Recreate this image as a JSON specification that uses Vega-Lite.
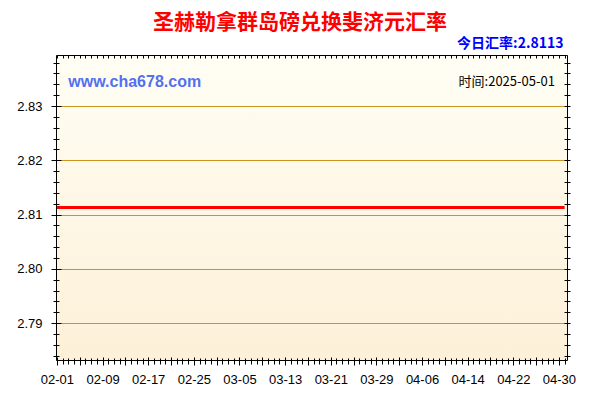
{
  "$schema": "https://vega.github.io/schema/vega-lite/v6.json",
  "width": 511,
  "height": 305,
  "autosize": {"type": "none"},
  "padding": {"left": 56, "top": 55, "right": 33, "bottom": 40},
  "background": "#ffffff",
  "title": {
    "text": "圣赫勒拿群岛磅兑换斐济元汇率",
    "color": "#ff0000",
    "font": "Noto Sans CJK SC",
    "fontSize": 21,
    "fontWeight": "bold",
    "anchor": "middle",
    "offset": 4,
    "dx": -11.5
  },
  "config": {
    "view": {
      "fill": {
        "gradient": "linear",
        "x1": 0, "y1": 0, "x2": 0, "y2": 1,
        "stops": [
          {"offset": 0, "color": "#fffef4"},
          {"offset": 1, "color": "#fdf0d8"}
        ]
      },
      "stroke": "#000000",
      "strokeWidth": 1
    },
    "axis": {
      "domain": false,
      "grid": false,
      "labelFont": "Liberation Sans",
      "labelFontSize": 13,
      "labelColor": "#000000",
      "tickColor": "#000000",
      "tickWidth": 1
    }
  },
  "data": {
    "values": [
      {"date": "2025-02-01", "rate": 2.8113}, {"date": "2025-02-02", "rate": 2.8113}, {"date": "2025-02-03", "rate": 2.8113},
      {"date": "2025-02-04", "rate": 2.8113}, {"date": "2025-02-05", "rate": 2.8113}, {"date": "2025-02-06", "rate": 2.8113},
      {"date": "2025-02-07", "rate": 2.8113}, {"date": "2025-02-08", "rate": 2.8113}, {"date": "2025-02-09", "rate": 2.8113},
      {"date": "2025-02-10", "rate": 2.8113}, {"date": "2025-02-11", "rate": 2.8113}, {"date": "2025-02-12", "rate": 2.8113},
      {"date": "2025-02-13", "rate": 2.8113}, {"date": "2025-02-14", "rate": 2.8113}, {"date": "2025-02-15", "rate": 2.8113},
      {"date": "2025-02-16", "rate": 2.8113}, {"date": "2025-02-17", "rate": 2.8113}, {"date": "2025-02-18", "rate": 2.8113},
      {"date": "2025-02-19", "rate": 2.8113}, {"date": "2025-02-20", "rate": 2.8113}, {"date": "2025-02-21", "rate": 2.8113},
      {"date": "2025-02-22", "rate": 2.8113}, {"date": "2025-02-23", "rate": 2.8113}, {"date": "2025-02-24", "rate": 2.8113},
      {"date": "2025-02-25", "rate": 2.8113}, {"date": "2025-02-26", "rate": 2.8113}, {"date": "2025-02-27", "rate": 2.8113},
      {"date": "2025-02-28", "rate": 2.8113}, {"date": "2025-03-01", "rate": 2.8113}, {"date": "2025-03-02", "rate": 2.8113},
      {"date": "2025-03-03", "rate": 2.8113}, {"date": "2025-03-04", "rate": 2.8113}, {"date": "2025-03-05", "rate": 2.8113},
      {"date": "2025-03-06", "rate": 2.8113}, {"date": "2025-03-07", "rate": 2.8113}, {"date": "2025-03-08", "rate": 2.8113},
      {"date": "2025-03-09", "rate": 2.8113}, {"date": "2025-03-10", "rate": 2.8113}, {"date": "2025-03-11", "rate": 2.8113},
      {"date": "2025-03-12", "rate": 2.8113}, {"date": "2025-03-13", "rate": 2.8113}, {"date": "2025-03-14", "rate": 2.8113},
      {"date": "2025-03-15", "rate": 2.8113}, {"date": "2025-03-16", "rate": 2.8113}, {"date": "2025-03-17", "rate": 2.8113},
      {"date": "2025-03-18", "rate": 2.8113}, {"date": "2025-03-19", "rate": 2.8113}, {"date": "2025-03-20", "rate": 2.8113},
      {"date": "2025-03-21", "rate": 2.8113}, {"date": "2025-03-22", "rate": 2.8113}, {"date": "2025-03-23", "rate": 2.8113},
      {"date": "2025-03-24", "rate": 2.8113}, {"date": "2025-03-25", "rate": 2.8113}, {"date": "2025-03-26", "rate": 2.8113},
      {"date": "2025-03-27", "rate": 2.8113}, {"date": "2025-03-28", "rate": 2.8113}, {"date": "2025-03-29", "rate": 2.8113},
      {"date": "2025-03-30", "rate": 2.8113}, {"date": "2025-03-31", "rate": 2.8113}, {"date": "2025-04-01", "rate": 2.8113},
      {"date": "2025-04-02", "rate": 2.8113}, {"date": "2025-04-03", "rate": 2.8113}, {"date": "2025-04-04", "rate": 2.8113},
      {"date": "2025-04-05", "rate": 2.8113}, {"date": "2025-04-06", "rate": 2.8113}, {"date": "2025-04-07", "rate": 2.8113},
      {"date": "2025-04-08", "rate": 2.8113}, {"date": "2025-04-09", "rate": 2.8113}, {"date": "2025-04-10", "rate": 2.8113},
      {"date": "2025-04-11", "rate": 2.8113}, {"date": "2025-04-12", "rate": 2.8113}, {"date": "2025-04-13", "rate": 2.8113},
      {"date": "2025-04-14", "rate": 2.8113}, {"date": "2025-04-15", "rate": 2.8113}, {"date": "2025-04-16", "rate": 2.8113},
      {"date": "2025-04-17", "rate": 2.8113}, {"date": "2025-04-18", "rate": 2.8113}, {"date": "2025-04-19", "rate": 2.8113},
      {"date": "2025-04-20", "rate": 2.8113}, {"date": "2025-04-21", "rate": 2.8113}, {"date": "2025-04-22", "rate": 2.8113},
      {"date": "2025-04-23", "rate": 2.8113}, {"date": "2025-04-24", "rate": 2.8113}, {"date": "2025-04-25", "rate": 2.8113},
      {"date": "2025-04-26", "rate": 2.8113}, {"date": "2025-04-27", "rate": 2.8113}, {"date": "2025-04-28", "rate": 2.8113},
      {"date": "2025-04-29", "rate": 2.8113}, {"date": "2025-04-30", "rate": 2.8113}, {"date": "2025-05-01", "rate": 2.8113}
    ]
  },
  "resolve": {"axis": {"x": "independent", "y": "independent"}},
  "layer": [
    {
      "mark": {"type": "line", "color": "#ff0000", "strokeWidth": 3},
      "encoding": {
        "x": {
          "field": "date",
          "type": "temporal",
          "scale": {
            "type": "utc",
            "nice": false,
            "domain": [
              {"year": 2025, "month": 1, "date": 31, "hours": 20, "utc": true},
              {"year": 2025, "month": 5, "date": 1, "hours": 10, "utc": true}
            ]
          },
          "axis": {
            "orient": "bottom",
            "title": null,
            "values": [
              {"year": 2025, "month": 2, "date": 1, "utc": true},
              {"year": 2025, "month": 2, "date": 5, "utc": true},
              {"year": 2025, "month": 2, "date": 9, "utc": true},
              {"year": 2025, "month": 2, "date": 13, "utc": true},
              {"year": 2025, "month": 2, "date": 17, "utc": true},
              {"year": 2025, "month": 2, "date": 21, "utc": true},
              {"year": 2025, "month": 2, "date": 25, "utc": true},
              {"year": 2025, "month": 3, "date": 1, "utc": true},
              {"year": 2025, "month": 3, "date": 5, "utc": true},
              {"year": 2025, "month": 3, "date": 9, "utc": true},
              {"year": 2025, "month": 3, "date": 13, "utc": true},
              {"year": 2025, "month": 3, "date": 17, "utc": true},
              {"year": 2025, "month": 3, "date": 21, "utc": true},
              {"year": 2025, "month": 3, "date": 25, "utc": true},
              {"year": 2025, "month": 3, "date": 29, "utc": true},
              {"year": 2025, "month": 4, "date": 2, "utc": true},
              {"year": 2025, "month": 4, "date": 6, "utc": true},
              {"year": 2025, "month": 4, "date": 10, "utc": true},
              {"year": 2025, "month": 4, "date": 14, "utc": true},
              {"year": 2025, "month": 4, "date": 18, "utc": true},
              {"year": 2025, "month": 4, "date": 22, "utc": true},
              {"year": 2025, "month": 4, "date": 26, "utc": true},
              {"year": 2025, "month": 4, "date": 30, "utc": true}
            ],
            "labelExpr": "((datum.value - utc(2025, 1, 1)) / 86400000) % 8 == 0 ? utcFormat(datum.value, '%m-%d') : ''",
            "labelOverlap": false,
            "labelFlush": false,
            "tickSize": 8,
            "offset": -3,
            "labelPadding": 8
          }
        },
        "y": {
          "field": "rate",
          "type": "quantitative",
          "scale": {"domain": [2.78319, 2.83941], "zero": false, "nice": false},
          "axis": {
            "orient": "left",
            "title": null,
            "values": [2.79, 2.8, 2.81, 2.82, 2.83],
            "format": ".2f",
            "grid": true,
            "gridColor": "#c8961e",
            "gridWidth": 1,
            "tickSize": 10,
            "offset": -5,
            "labelPadding": 9
          }
        }
      }
    },
    {
      "mark": {"type": "line", "strokeOpacity": 0},
      "encoding": {
        "x": {
          "field": "date",
          "type": "temporal",
          "axis": {
            "orient": "bottom",
            "title": null,
            "labels": false,
            "tickCount": {"interval": "day", "step": 1},
            "tickSize": 6,
            "offset": -2
          }
        },
        "y": {
          "field": "rate",
          "type": "quantitative",
          "axis": {
            "orient": "left",
            "title": null,
            "labels": false,
            "values": [2.784, 2.786, 2.788, 2.79, 2.792, 2.794, 2.796, 2.798, 2.8, 2.802, 2.804, 2.806, 2.808, 2.81, 2.812, 2.814, 2.816, 2.818, 2.82, 2.822, 2.824, 2.826, 2.828, 2.83, 2.832, 2.834, 2.836, 2.838],
            "tickSize": 6,
            "offset": -3
          }
        }
      }
    },
    {
      "mark": {"type": "line", "strokeOpacity": 0},
      "encoding": {
        "x": {
          "field": "date",
          "type": "temporal",
          "axis": {
            "orient": "top",
            "title": "今日汇率:2.8113",
            "titleColor": "#0000ff",
            "titleFont": "Noto Sans CJK SC",
            "titleFontSize": 14,
            "titleFontWeight": "bold",
            "titleAnchor": "end",
            "titleAlign": "right",
            "titleX": 507,
            "titlePadding": 4,
            "labels": false,
            "tickCount": {"interval": "day", "step": 1},
            "tickSize": 3,
            "offset": -3
          }
        },
        "y": {
          "field": "rate",
          "type": "quantitative",
          "axis": {
            "orient": "right",
            "title": null,
            "labels": false,
            "values": [2.784, 2.786, 2.788, 2.79, 2.792, 2.794, 2.796, 2.798, 2.8, 2.802, 2.804, 2.806, 2.808, 2.81, 2.812, 2.814, 2.816, 2.818, 2.82, 2.822, 2.824, 2.826, 2.828, 2.83, 2.832, 2.834, 2.836, 2.838],
            "tickSize": 6,
            "offset": -3
          }
        }
      }
    },
    {
      "data": {"values": [{"label": "www.cha678.com"}]},
      "mark": {
        "type": "text",
        "align": "left",
        "baseline": "middle",
        "font": "Liberation Sans",
        "fontSize": 16,
        "fontWeight": "bold",
        "color": "#5470f0"
      },
      "encoding": {
        "x": {"datum": {"year": 2025, "month": 2, "date": 3, "utc": true}, "type": "temporal", "axis": null},
        "y": {"datum": 2.8345, "type": "quantitative", "axis": null},
        "text": {"field": "label"}
      }
    },
    {
      "data": {"values": [{"label": "时间:2025-05-01"}]},
      "mark": {
        "type": "text",
        "align": "right",
        "baseline": "middle",
        "dx": -4,
        "font": "Noto Sans CJK SC",
        "fontSize": 13,
        "color": "#000000"
      },
      "encoding": {
        "x": {"datum": {"year": 2025, "month": 4, "date": 30, "utc": true}, "type": "temporal", "axis": null},
        "y": {"datum": 2.8345, "type": "quantitative", "axis": null},
        "text": {"field": "label"}
      }
    }
  ]
}
